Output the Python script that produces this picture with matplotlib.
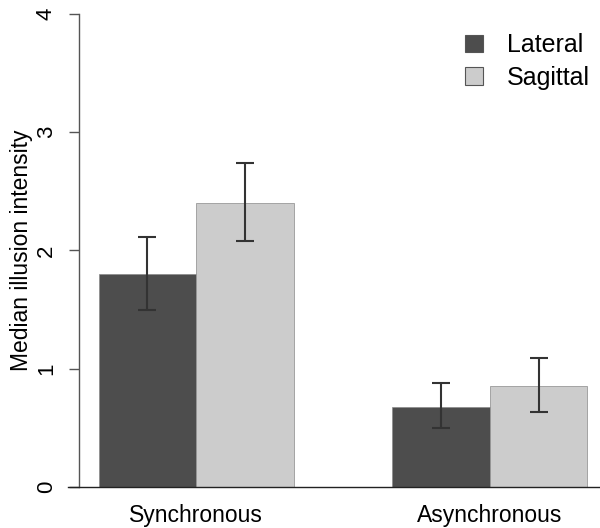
import numpy as np
import matplotlib
matplotlib.use("Agg")
import matplotlib.pyplot as plt
from matplotlib.patches import Patch

plt.rcParams['font.family'] = ['Liberation Sans', 'DejaVu Sans']

# data
conditions = ["Synchronous", "Asynchronous"]
series = ["Lateral", "Sagittal"]
medians = {"Lateral": [1.80, 0.68], "Sagittal": [2.40, 0.85]}
err_low = {"Lateral": [1.50, 0.50], "Sagittal": [2.08, 0.63]}
err_high = {"Lateral": [2.11, 0.88], "Sagittal": [2.74, 1.09]}
colors = {"Lateral": "#4d4d4d", "Sagittal": "#cccccc"}

fig = plt.figure(figsize=(6, 5.28), dpi=100)
ax = fig.add_axes([0.1317, 0.0777, 0.88, 0.8958])

# R barplot layout: width 1, beside=TRUE, one unit gap between groups
group_left = np.array([1.0, 4.0])
for i, s in enumerate(series):
    left = group_left + i
    ax.bar(left, medians[s], width=1.0, align='edge', color=colors[s],
           edgecolor='#8a8a8a', linewidth=0.5, zorder=2)
    centers = left + 0.5
    m = np.array(medians[s])
    yerr = [m - np.array(err_low[s]), np.array(err_high[s]) - m]
    ax.errorbar(centers, m, yerr=yerr, fmt='none', ecolor='#333333',
                elinewidth=1.5, capsize=6.5, capthick=1.5, zorder=3)

ax.set_xlim(0.8, 6.2)
ax.set_ylim(0, 4)

# axes styled like base R
for side in ['top', 'right', 'bottom']:
    ax.spines[side].set_visible(False)
ax.spines['left'].set_color('#555555')
ax.spines['left'].set_linewidth(1.0)
ax.spines['left'].set_bounds(0, 4)
ax.axhline(0, xmin=-0.02, xmax=1.0, color='#222222', lw=1.0,
           clip_on=False, zorder=4)

ax.set_yticks([0, 1, 2, 3, 4])
ax.set_yticklabels(['0', '1', '2', '3', '4'], rotation=90, va='center')
ax.tick_params(axis='y', length=7, width=1.0, color='#555555', pad=9,
               labelsize=16)
ax.set_xticks(group_left + 1.0)
ax.set_xticklabels(conditions)
ax.tick_params(axis='x', length=0, pad=12, labelsize=16.5)

ax.set_ylabel("Median illusion intensity", fontsize=16.5, labelpad=2)

handles = [Patch(facecolor=colors[s], edgecolor='#555555', linewidth=0.8)
           for s in series]
fig.legend(handles, series, loc='upper left', bbox_to_anchor=(0.775, 0.937),
           frameon=False, fontsize=18, handlelength=0.72, handleheight=0.72,
           handletextpad=0.95, labelspacing=0.35, borderpad=0,
           borderaxespad=0)

fig.savefig("out.png", dpi=100)
